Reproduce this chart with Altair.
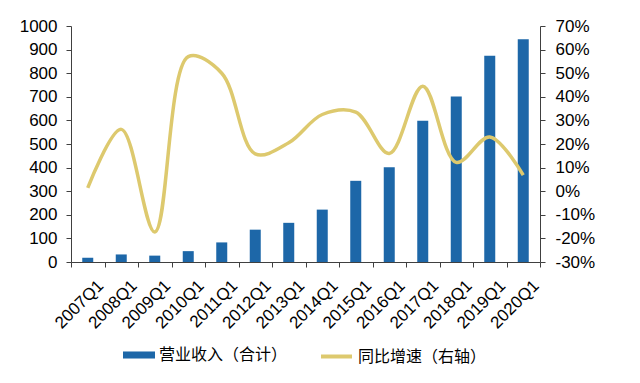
import altair as alt
import pandas as pd

categories = ["2007Q1", "2008Q1", "2009Q1", "2010Q1", "2011Q1", "2012Q1", "2013Q1",
              "2014Q1", "2015Q1", "2016Q1", "2017Q1", "2018Q1", "2019Q1", "2020Q1"]
revenue = [18, 32, 27, 46, 83, 137, 166, 222, 344, 401, 598, 701, 874, 944]
growth = [1.4, 26.2, -17.3, 57.0, 50.0, 15.8, 20.5, 32.5, 33.5, 16.0, 44.5, 12.2, 23.0, 6.8]
bar_name = "营业收入（合计）"
line_name = "同比增速（右轴）"
left_ticks = list(range(0, 1001, 100))
right_ticks = list(range(-30, 71, 10))

BLUE = "#1D67A8"
GOLD = "#DDC96E"
AX = "#404040"
FONT = "Liberation Sans"
FS = 17

df = pd.DataFrame({
    "cat": categories,
    "rev": revenue,
    "g": growth,
    "bn": [bar_name] * len(categories),
    "ln": [line_name] * len(categories),
})

x_enc = alt.X(
    "cat:N", sort=categories, title=None,
    scale=alt.Scale(paddingInner=0, paddingOuter=0),
    axis=alt.Axis(labelAngle=-45, labelAlign="right", labelBaseline="top",
                  labelFontSize=FS, labelFont=FONT, labelColor="#000000",
                  labelPadding=10, labelOffset=7,
                  tickBand="extent", tickSize=5, tickColor=AX, domainColor=AX,
                  labelOverlap=False),
)

bars = alt.Chart(df).mark_bar(size=11).encode(
    x=x_enc,
    y=alt.Y("rev:Q", title=None,
            scale=alt.Scale(domain=[0, 1000], nice=False, zero=True),
            axis=alt.Axis(values=left_ticks, labelExpr="datum.value + ''",
                          labelFontSize=FS, labelFont=FONT,
                          labelColor="#000000", tickSize=5, tickColor=AX,
                          domainColor=AX, labelPadding=9, grid=False)),
    color=alt.Color("bn:N",
                    scale=alt.Scale(domain=[bar_name], range=[BLUE]),
                    legend=alt.Legend(title=None, orient="none", legendX=52, legendY=313,
                                      symbolType="M-1,-0.22H1V0.22H-1Z", symbolSize=1024,
                                      symbolStrokeWidth=0, padding=0,
                                      labelFont="Noto Sans CJK SC", labelFontSize=16,
                                      labelColor="#000000", labelOffset=4)),
)

line = alt.Chart(df).mark_line(interpolate="catmull-rom", strokeWidth=3.5).encode(
    x=x_enc,
    y=alt.Y("g:Q", title=None,
            scale=alt.Scale(domain=[-30, 70], nice=False, zero=False),
            axis=alt.Axis(orient="right", values=right_ticks, labelExpr="datum.value + '%'",
                          labelFontSize=FS, labelFont=FONT, labelColor="#000000",
                          tickSize=5, tickColor=AX, domainColor=AX, labelPadding=10,
                          grid=False)),
    stroke=alt.Stroke("ln:N",
                      scale=alt.Scale(domain=[line_name], range=[GOLD]),
                      legend=alt.Legend(title=None, orient="none", legendX=248, legendY=313,
                                        symbolType="M-1,0H1", symbolSize=961,
                                        symbolStrokeWidth=4, padding=0,
                                        labelFont="Noto Sans CJK SC", labelFontSize=16,
                                        labelColor="#000000", labelOffset=4)),
)

chart = alt.layer(bars, line).resolve_scale(y="independent").properties(
    width=469, height=236,
    autosize=alt.AutoSizeParams(type="none"),
    padding={"left": 63, "top": 18, "right": 92, "bottom": 113},
    background="#ffffff",
).configure_view(strokeWidth=0)

chart.save("out.html", embed_options={"renderer": "svg", "actions": False})
